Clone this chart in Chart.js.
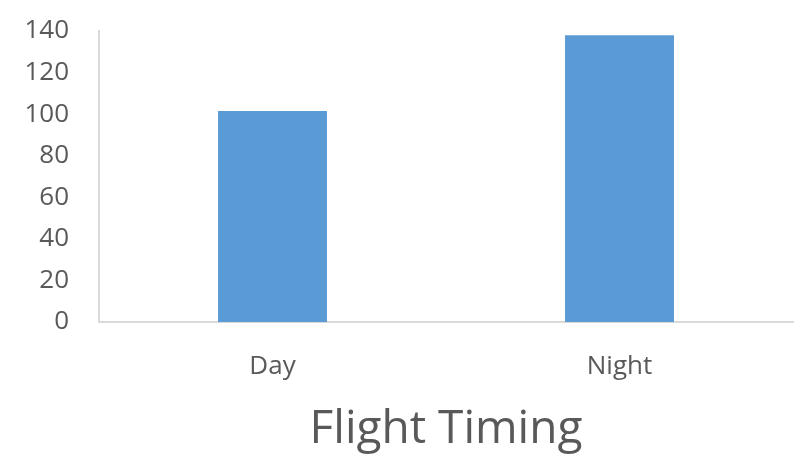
<!DOCTYPE html>
<html>
<head>
<meta charset="utf-8">
<script src="https://cdn.jsdelivr.net/npm/chart.js@4/dist/chart.umd.min.js"></script>
<style>
html,body{margin:0;padding:0;background:#fff;}
#wrap{width:805px;height:454px;position:relative;}
</style>
</head>
<body>
<div id="wrap"><canvas id="c" width="805" height="454"></canvas></div>
<script>
const categories = ['Day', 'Night'];
const values = [101.5, 138];
const yTicks = [0, 20, 40, 60, 80, 100, 120, 140];
const axisTitle = 'Flight Timing';

const textColor = '#595959';
const fontFamily = "'Open Sans', 'Liberation Sans', sans-serif";

new Chart(document.getElementById('c'), {
  type: 'bar',
  data: {
    labels: categories,
    datasets: [{
      data: values,
      backgroundColor: '#5b9bd5',
      borderWidth: 0,
      categoryPercentage: 1,
      barPercentage: 0.314
    }]
  },
  options: {
    responsive: false,
    animation: false,
    devicePixelRatio: 1,
    layout: { padding: { left: 0, right: 12, top: 31, bottom: 0 } },
    plugins: { legend: { display: false }, tooltip: { enabled: false } },
    scales: {
      y: {
        min: yTicks[0],
        max: yTicks[yTicks.length - 1],
        afterBuildTicks: (s) => { s.ticks = yTicks.map(v => ({ value: v })); },
        grid: { display: false, drawTicks: false },
        border: { display: true, color: '#d9d9d9', width: 2 },
        ticks: {
          color: textColor,
          font: { family: fontFamily, size: 26 },
          padding: 30
        },
        afterFit: (s) => { s.width = 99; s.paddingTop = 0; s.paddingBottom = 0; }
      },
      x: {
        grid: { display: false, drawTicks: false },
        border: { display: true, color: '#d9d9d9', width: 2 },
        ticks: {
          color: textColor,
          font: { family: fontFamily, size: 26 },
          padding: 29
        },
        title: {
          display: true,
          text: axisTitle,
          color: textColor,
          font: { family: fontFamily, size: 46 },
          padding: { top: 0, bottom: -3 }
        },
        afterFit: (s) => { s.height = 132; }
      }
    }
  }
});
</script>
</body>
</html>
